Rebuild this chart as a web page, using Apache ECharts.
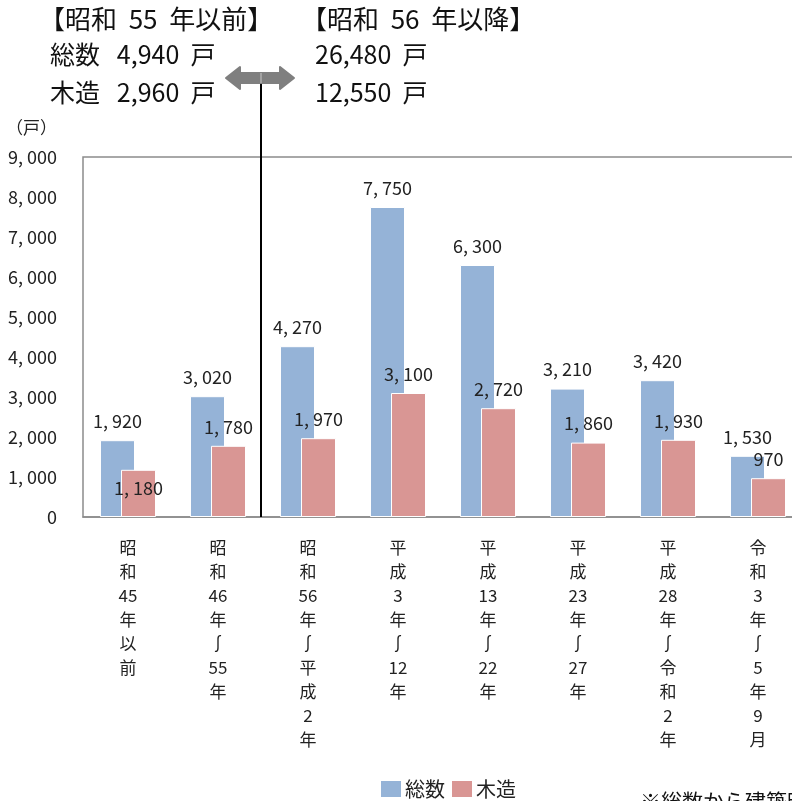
<!DOCTYPE html>
<html>
<head>
<meta charset="utf-8">
<script src="https://cdn.jsdelivr.net/npm/echarts@6/dist/echarts.min.js"></script>
<style>
  html, body { margin: 0; padding: 0; background: #fff; }
  #chart { width: 792px; height: 801px; }
</style>
</head>
<body>
<div id="chart"></div>
<script>
// 建築時期別の住宅数
const categories = ['昭和45年以前', '昭和46年～55年', '昭和56年～平成2年', '平成3年～12年', '平成13年～22年', '平成23年～27年', '平成28年～令和2年', '令和3年～5年9月']
const totalValues = [1920, 3020, 4270, 7750, 6300, 3210, 3420, 1530]
const woodValues = [1180, 1780, 1970, 3100, 2720, 1860, 1930, 970]
const yTicks = [0, 1000, 2000, 3000, 4000, 5000, 6000, 7000, 8000, 9000]
const seriesNames = ['総数', '木造']

const font = '"Noto Sans CJK JP", "Noto Sans", sans-serif'

// 1920 -> "1, 920"
function fmt(v) {
  return Number(v).toLocaleString('en-US').replace(/,/g, ', ')
}
// 縦書き風に1文字ずつ改行（数字はまとめる）
function vertical(s) {
  return s.replace(/～/g, '∫').match(/\d+|./g).join('\n')
}

const chart = echarts.init(document.getElementById('chart'))

const option = {
  animation: false,
  textStyle: { fontFamily: font },
  grid: {
    show: true,
    left: 83,
    top: 157,
    width: 720,
    height: 360,
    outerBoundsMode: 'none',
    containLabel: false,
    borderColor: '#8c8c8c',
    borderWidth: 1.5
  },
  legend: {
    data: seriesNames,
    left: 374,
    top: 774,
    icon: 'rect',
    itemWidth: 22,
    itemHeight: 18,
    itemGap: 5,
    textStyle: { fontSize: 20, color: '#222', fontFamily: font, padding: [0, 0, 0, -2] }
  },
  xAxis: {
    type: 'category',
    data: categories,
    axisTick: { show: false },
    axisLine: { lineStyle: { color: '#8c8c8c', width: 1.5 } },
    axisLabel: {
      interval: 0,
      margin: 19,
      fontSize: 17,
      lineHeight: 24,
      color: '#222',
      fontFamily: font,
      formatter: v => vertical(v)
    }
  },
  yAxis: {
    type: 'value',
    min: yTicks[0],
    max: yTicks[yTicks.length - 1],
    interval: 1000,
    splitLine: { show: false },
    axisLine: { show: false },
    axisTick: { show: false },
    axisLabel: {
      margin: 26,
      fontSize: 18,
      color: '#222',
      fontFamily: font,
      formatter: v => fmt(v)
    }
  },
  series: [
    {
      name: seriesNames[0],
      type: 'bar',
      barWidth: 35,
      barGap: '-40%',
      data: totalValues,
      itemStyle: { color: '#95b3d7', borderColor: '#fff', borderWidth: 1 },
      label: {
        show: true,
        position: 'top',
        distance: 10,
        fontSize: 18,
        color: '#222',
        fontFamily: font,
        formatter: p => fmt(p.value)
      }
    },
    {
      name: seriesNames[1],
      type: 'bar',
      barWidth: 35,
      data: woodValues.map((v, i) => i === 0
        ? { value: v, label: { position: 'insideTop', distance: 9 } }
        : v),
      itemStyle: { color: '#d99694', borderColor: '#fff', borderWidth: 1 },
      label: {
        show: true,
        position: 'top',
        distance: 10,
        fontSize: 18,
        color: '#222',
        fontFamily: font,
        formatter: p => fmt(p.value)
      }
    }
  ],
  graphic: [
    { type: 'text', left: 39, top: 6, style: { text: '【昭和  55  年以前】', fill: '#111', font: '26px ' + font } },
    { type: 'text', left: 301, top: 6, style: { text: '【昭和  56  年以降】', fill: '#111', font: '26px ' + font } },
    { type: 'text', left: 50, top: 42, style: { text: '総数   4,940  戸', fill: '#111', font: '25px ' + font } },
    { type: 'text', left: 50, top: 80, style: { text: '木造   2,960  戸', fill: '#111', font: '25px ' + font } },
    { type: 'text', left: 315, top: 42, style: { text: '26,480  戸', fill: '#111', font: '25px ' + font } },
    { type: 'text', left: 315, top: 80, style: { text: '12,550  戸', fill: '#111', font: '25px ' + font } },
    { type: 'text', left: 6, top: 119, style: { text: '（戸）', fill: '#222', font: '17px ' + font } },
    { type: 'text', left: 640, top: 791, style: { text: '※総数から建築時期不詳を除く', fill: '#111', font: '21px ' + font } },
    // 区切り線
    { type: 'line', shape: { x1: 261, y1: 84, x2: 261, y2: 517 }, style: { stroke: '#000', lineWidth: 2 }, z: 10 },
    // 両矢印
    {
      type: 'polygon',
      shape: {
        points: [[226, 78], [240, 67], [240, 73], [280, 73], [280, 67], [294, 78], [280, 89], [280, 83], [240, 83], [240, 89]]
      },
      style: { fill: '#7f7f7f', lineJoin: 'round', stroke: '#7f7f7f', lineWidth: 2 },
      z: 11
    },
    { type: 'line', shape: { x1: 261, y1: 73, x2: 261, y2: 83 }, style: { stroke: '#c8c8c8', lineWidth: 1 }, z: 12 }
  ]
}

chart.setOption(option)
window.addEventListener('resize', () => chart.resize(), false)
</script>
</body>
</html>
